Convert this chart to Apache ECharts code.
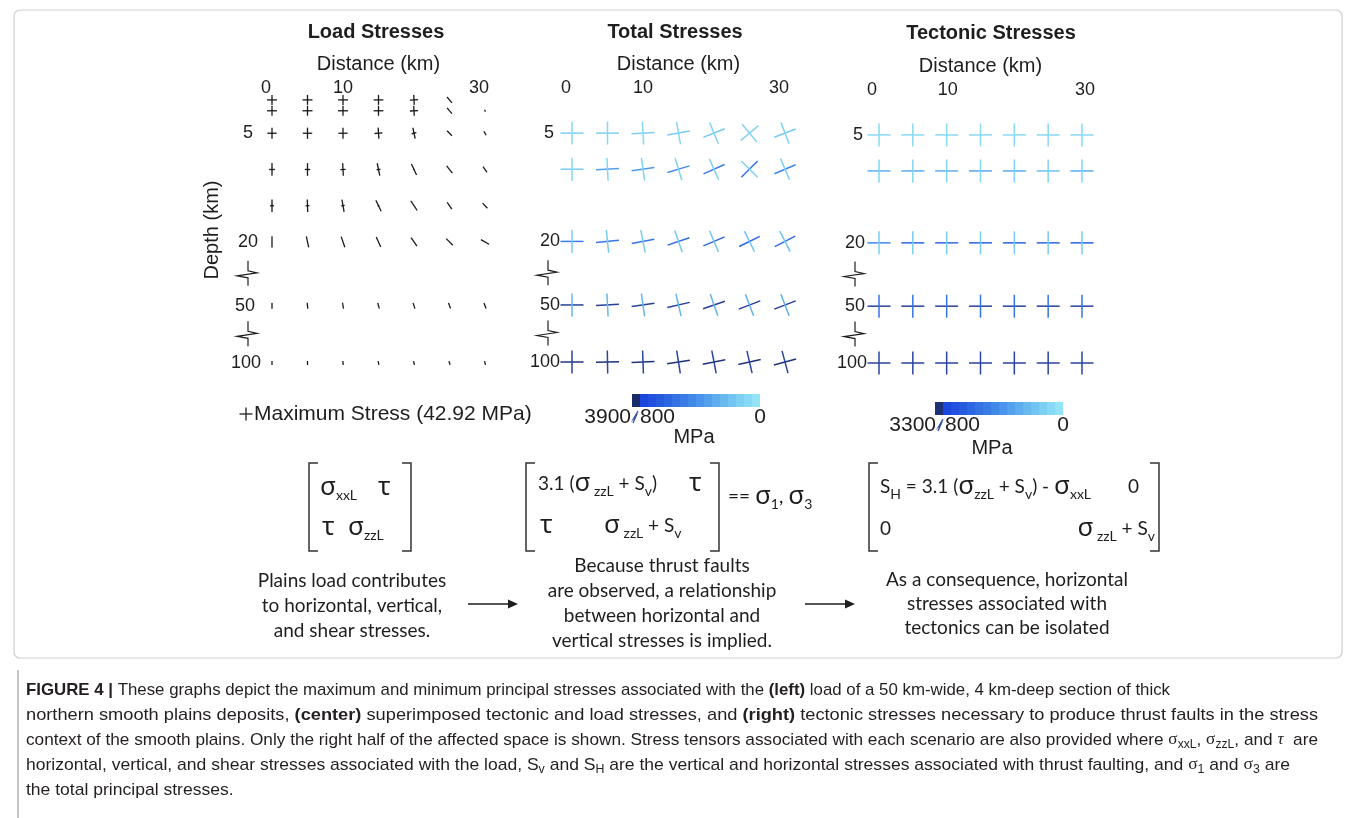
<!DOCTYPE html>
<html>
<head>
<meta charset="utf-8">
<title>Figure 4</title>
<script src="https://cdn.jsdelivr.net/npm/echarts@6.0.0/dist/echarts.min.js"></script>
<style>
html,body{margin:0;padding:0;background:#ffffff;}
#chart{width:1356px;height:818px;}
</style>
</head>
<body>
<div id="chart"></div>
<script>
// ================= DATA =================
const distances  = [0, 5, 10, 15, 20, 25, 30];          // km (columns)
const distTicks  = [0, 10, 30];
const depthTicks = [5, 20, 50, 100];                     // km

// --- Load stresses (black glyphs): sigma1 (near-vertical arm), sigma3 (horizontal arm), MPa; tilt in degrees
const maxLoadStress = 42.92;
const loadDepths = [0.4, 1.9, 5, 10, 15, 20, 50, 100];
const loadSigma1 = [
  [33, 33, 33, 33, 33, 25, 0],
  [33, 33, 33, 33, 33, 25, 7],
  [37, 37, 37, 37, 37, 23, 15],
  [42, 42, 42, 42, 40, 31, 23],
  [41, 41, 41, 40, 38, 27, 23],
  [37, 37, 37, 36, 34, 31, 31],
  [20, 20, 20, 20, 20, 20, 20],
  [13, 13, 13, 13, 13, 13, 13]
];
const loadSigma3 = [
  [33, 33, 33, 32, 27, 0, 0],
  [33, 33, 33, 32, 27, 0, 0],
  [31, 31, 30, 26, 16, 0, 0],
  [19, 18, 17, 13, 4, 0, 0],
  [13, 13, 11, 6, 0, 0, 0],
  [0, 0, 0, 0, 0, 0, 0],
  [0, 0, 0, 0, 0, 0, 0],
  [0, 0, 0, 0, 0, 0, 0]
];
const loadAngle = [
  [0, 0, 0, 0, 3, 40, 0],
  [0, 0, 0, 0, 3, 40, 30],
  [0, 0, 0, 4, 12, 45, 30],
  [0, 0, 3, 12, 25, 38, 35],
  [0, 2, 10, 26, 34, 35, 43],
  [0, 12, 19, 24, 35, 45, 60],
  [0, 5, 10, 15, 18, 20, 21],
  [0, 3, 6, 12, 15, 15, 15]
];

// --- Total stresses (MPa): horizontal-ish arm, vertical-ish arm, rotation (deg)
const totalDepths = [5, 10, 20, 50, 100];
const totalSigmaH = [
  [110, 110, 120, 140, 160, 130, 150],
  [130, 350, 380, 430, 520, 560, 480],
  [520, 540, 560, 600, 620, 640, 600],
  [1500, 1500, 1500, 1500, 1600, 1600, 1600],
  [3000, 3000, 3000, 3000, 3000, 3000, 3000]
];
const totalSigmaV = [
  [70, 70, 70, 80, 90, 90, 100],
  [70, 80, 90, 100, 110, 110, 120],
  [130, 140, 150, 160, 170, 180, 180],
  [240, 240, 250, 250, 260, 270, 280],
  [900, 900, 950, 950, 1000, 1000, 1000]
];
const totalAngle = [
  [0, 0, 3, 10, 22, 40, 21],
  [0, 3, 8, 17, 24, 45, 23],
  [0, 6, 11, 19, 23, 26, 27],
  [0, 3, 8, 13, 19, 21, 21],
  [0, 1, 2, 9, 11, 13, 15]
];

// --- Tectonic stresses (MPa), no rotation
const tectDepths = [5, 10, 20, 50, 100];
const tectSigmaH = [
  [60, 60, 60, 60, 60, 60, 60],
  [280, 300, 280, 320, 300, 200, 300],
  [460, 620, 620, 650, 650, 620, 650],
  [1200, 1300, 1300, 1300, 1300, 1300, 1300],
  [1100, 1100, 1100, 1100, 1100, 1100, 1100]
];
const tectSigmaV = [
  [60, 60, 60, 60, 60, 60, 60],
  [90, 90, 90, 90, 90, 90, 90],
  [130, 140, 140, 140, 140, 140, 140],
  [560, 560, 560, 560, 560, 560, 560],
  [1000, 1000, 1000, 1000, 1000, 1000, 1000]
];

// --- colour bars (MPa per block)
const colorbarTotal = [3900, 800, 745, 690, 630, 570, 515, 460, 400, 345, 285, 230, 170, 115, 60, 0];
const colorbarTect  = [3300, 800, 745, 690, 630, 570, 515, 460, 400, 345, 285, 230, 170, 115, 60, 0];

// ================= STYLE / LAYOUT =================
const SANS  = '"Liberation Sans", Arial, Helvetica, sans-serif';
const HUM   = 'Lato, "Open Sans", "Noto Sans", sans-serif';
const GREEK = '"Noto Sans", "DejaVu Sans", sans-serif';
const SERIF = '"Liberation Serif", "DejaVu Serif", serif';
const INK = '#1e1e1e';

// broken depth axis: depth -> axis position
const DEPTH_AXIS_KNOTS = [[0, 0], [20, 20], [50, 28.8], [100, 36.7]];
const DEPTH_AXIS_MAX = 36.7;
function depthPos(d) {
  const K = DEPTH_AXIS_KNOTS;
  for (let i = 1; i < K.length; i++) {
    if (d <= K[i][0]) return K[i-1][1] + (d - K[i-1][0]) * (K[i][1] - K[i-1][1]) / (K[i][0] - K[i-1][0]);
  }
  return K[K.length-1][1];
}

const BLUE_STOPS = [[0, '#93e4f7'], [200, '#6cc0f1'], [400, '#4a94eb'], [600, '#2f6be3'], [800, '#1b47dc']];
const NAVY_STOPS = [[800, '#2a46a6'], [3900, '#1b2b6a']];
function hex2rgb(h){ return [parseInt(h.substr(1,2),16), parseInt(h.substr(3,2),16), parseInt(h.substr(5,2),16)]; }
function lerpStops(stops, v) {
  if (v <= stops[0][0]) return stops[0][1];
  for (let i = 1; i < stops.length; i++) {
    if (v <= stops[i][0]) {
      const f = (v - stops[i-1][0]) / (stops[i][0] - stops[i-1][0]);
      const a = hex2rgb(stops[i-1][1]), b = hex2rgb(stops[i][1]);
      return 'rgb(' + a.map((c, k) => Math.round(c + (b[k]-c)*f)).join(',') + ')';
    }
  }
  return stops[stops.length-1][1];
}
function stressColor(v) { return v > 800 ? lerpStops(NAVY_STOPS, v) : lerpStops(BLUE_STOPS, v); }

const LOAD_PX = 13;   // full glyph length of maximum load stress
const CROSS_PX = 23;  // full arm length, coloured panels

const panels = [
  { grid: {left: 272, top: 97, width: 213, height: 266}, xShift: [-6, 0, -6], yOff: {5: 19, 20: 14, 50: 17, 100: 11} },
  { grid: {left: 572, top: 97, width: 213, height: 265}, xShift: [-6, 0, -6], yOff: {5: 18, 20: 12, 50: 12, 100: 12} },
  { grid: {left: 879, top: 99, width: 203, height: 264}, xShift: [-7, 1, 3],  yOff: {5: 16, 20: 14, 50: 14, 100: 12} }
];

function xAxisFor(i, p) {
  const rich = {};
  distTicks.forEach((t, k) => {
    const s = p.xShift[k];
    rich['t' + k] = {fontSize: 18, fontFamily: SANS, color: INK, padding: s < 0 ? [0, -2*s, 0, 0] : [0, 0, 0, 2*s]};
  });
  return {
    type: 'value', gridIndex: i, min: 0, max: 30, position: 'top',
    axisLine: {show: false}, axisTick: {show: false}, splitLine: {show: false},
    axisLabel: {
      customValues: distTicks, margin: 0, rich,
      formatter: (v) => { const k = distTicks.indexOf(v); return k < 0 ? '' : '{t' + k + '|' + v + '}'; }
    },
    name: 'Distance (km)', nameLocation: 'middle', nameGap: 23, nameMoveOverlap: false,
    nameTextStyle: {fontSize: 20, fontFamily: SANS, color: INK}
  };
}
function yAxisFor(i, p, withName) {
  const offs = depthTicks.map(d => p.yOff[d]);
  const m = Math.min(...offs);
  const rich = {};
  depthTicks.forEach((d, k) => { rich['t' + k] = {fontSize: 18, fontFamily: SANS, color: INK, padding: [0, offs[k] - m, 0, 0]}; });
  return {
    type: 'value', gridIndex: i, inverse: true, min: 0, max: DEPTH_AXIS_MAX,
    axisLine: {show: false}, axisTick: {show: false}, splitLine: {show: false},
    axisLabel: {
      customValues: depthTicks.map(depthPos), margin: m, rich,
      formatter: (v) => { const k = depthTicks.findIndex(d => Math.abs(depthPos(d) - v) < 1e-6); return k < 0 ? '' : '{t' + k + '|' + depthTicks[k] + '}'; }
    },
    name: withName ? 'Depth (km)' : '', nameLocation: 'middle', nameGap: 50, nameRotate: 90, nameMoveOverlap: false,
    nameTextStyle: {fontSize: 20, fontFamily: SANS, color: INK}
  };
}

function buildData(depths, A, B, ang) {
  const out = [];
  depths.forEach((d, r) => distances.forEach((x, c) => {
    out.push([x, depthPos(d), A[r][c], B[r][c], ang ? ang[r][c] : 0]);
  }));
  return out;
}
const loadData  = buildData(loadDepths, loadSigma3, loadSigma1, loadAngle);
const totalData = buildData(totalDepths, totalSigmaH, totalSigmaV, totalAngle);
const tectData  = buildData(tectDepths, tectSigmaH, tectSigmaV, null);

function crossRenderer(kind) {
  return function (params, api) {
    const c = api.coord([api.value(0), api.value(1)]);
    const a = api.value(2), b = api.value(3);
    const t = api.value(4) * Math.PI / 180;
    const ca = Math.cos(t), sa = Math.sin(t);
    let hA, hB, colA, colB, lw;
    if (kind === 'load') {
      hA = a / maxLoadStress * LOAD_PX / 2; hB = b / maxLoadStress * LOAD_PX / 2;
      colA = colB = '#1a1a1a'; lw = 1.3;
    } else {
      hA = hB = CROSS_PX / 2; colA = stressColor(a); colB = stressColor(b); lw = 1.5;
    }
    const ch = [];
    if (hA > 0.2) ch.push({type: 'line', shape: {x1: c[0] - hA*ca, y1: c[1] + hA*sa, x2: c[0] + hA*ca, y2: c[1] - hA*sa}, style: {stroke: colA, lineWidth: lw}});
    if (hB > 0.2) ch.push({type: 'line', shape: {x1: c[0] - hB*sa, y1: c[1] - hB*ca, x2: c[0] + hB*sa, y2: c[1] + hB*ca}, style: {stroke: colB, lineWidth: lw}});
    return {type: 'group', children: ch};
  };
}

const option = {
  animation: false,
  backgroundColor: '#ffffff',
  grid: [
    panels[0].grid, panels[1].grid, panels[2].grid,
    {left: 632, top: 394, width: 128, height: 13},
    {left: 935, top: 402, width: 128, height: 13}
  ],
  xAxis: [
    xAxisFor(0, panels[0]), xAxisFor(1, panels[1]), xAxisFor(2, panels[2]),
    {type: 'category', gridIndex: 3, data: colorbarTotal.map(String), show: false},
    {type: 'category', gridIndex: 4, data: colorbarTect.map(String), show: false}
  ],
  yAxis: [
    yAxisFor(0, panels[0], true), yAxisFor(1, panels[1], false), yAxisFor(2, panels[2], false),
    {type: 'value', gridIndex: 3, min: 0, max: 1, show: false},
    {type: 'value', gridIndex: 4, min: 0, max: 1, show: false}
  ],
  series: [
    {type: 'custom', xAxisIndex: 0, yAxisIndex: 0, data: loadData, encode: {x: 0, y: 1}, renderItem: crossRenderer('load'), clip: false, silent: true},
    {type: 'custom', xAxisIndex: 1, yAxisIndex: 1, data: totalData, encode: {x: 0, y: 1}, renderItem: crossRenderer('color'), clip: false, silent: true},
    {type: 'custom', xAxisIndex: 2, yAxisIndex: 2, data: tectData, encode: {x: 0, y: 1}, renderItem: crossRenderer('color'), clip: false, silent: true},
    {type: 'bar', xAxisIndex: 3, yAxisIndex: 3, barWidth: '100%', barCategoryGap: '0%', silent: true,
     data: colorbarTotal.map(v => ({value: 1, itemStyle: {color: stressColor(v)}}))},
    {type: 'bar', xAxisIndex: 4, yAxisIndex: 4, barWidth: '100%', barCategoryGap: '0%', silent: true,
     data: colorbarTect.map(v => ({value: 1, itemStyle: {color: stressColor(v)}}))}
  ]
};

const chart = echarts.init(document.getElementById('chart'), null, {renderer: 'canvas'});
chart.setOption(option);

// ================= ANNOTATIONS =================
function T(x, y, text, font, extra) {
  return {type: 'text', x, y, silent: true, z: 10,
    style: Object.assign({text, font, fill: INK, align: 'left', textAlign: 'left', verticalAlign: 'middle', textVerticalAlign: 'middle'}, extra || {})};
}
function R(x, y, text, rich, extra) {
  return {type: 'text', x, y, silent: true, z: 10,
    style: Object.assign({text, rich, font: '19px ' + HUM, fill: INK, align: 'left', textAlign: 'left', verticalAlign: 'middle', textVerticalAlign: 'middle'}, extra || {})};
}
function L(pts, color, lw) { return {type: 'polyline', silent: true, z: 10, shape: {points: pts}, style: {stroke: color || INK, lineWidth: lw || 1.4, fill: null}}; }

const G = [];
// frame
G.push({type: 'rect', silent: true, shape: {x: 14, y: 10, width: 1328, height: 648, r: 6}, style: {fill: null, stroke: '#cfcfcf', lineWidth: 1.2}});
G.push(L([[18, 670], [18, 818]], '#c4c4c4', 2));

// panel titles
[['Load Stresses', 376, 32], ['Total Stresses', 675, 32], ['Tectonic Stresses', 991, 33]].forEach(([t, x, y]) => {
  G.push(T(x, y, t, 'bold 20px ' + SANS, {align: 'center', textAlign: 'center'}));
});

// axis-break zigzags (placed relative to the axes)
const ZIG = [[0, -13], [0, -3], [9, -1], [-11, 2], [0, 4], [0, 12]];
[0, 1, 2].forEach(i => {
  [[20, 50], [50, 100]].forEach(([d0, d1]) => {
    const p = chart.convertToPixel({xAxisIndex: i, yAxisIndex: i}, [0, (depthPos(d0) + depthPos(d1)) / 2]);
    G.push(L(ZIG.map(([dx, dy]) => [p[0] - 24 + dx, p[1] + dy]), INK, 1.2));
  });
});

// legend for load glyph
G.push(L([[239.5, 414], [252.5, 414]], INK, 1.3));
G.push(L([[246, 407.5], [246, 420.5]], INK, 1.3));
G.push(T(254, 414, 'Maximum Stress (42.92 MPa)', '21px ' + SANS));

// colour bar labels
function cbLabels(x0, x1, y, maxLabel, mpaX, mpaY) {
  G.push(T(x0 - 1, y, maxLabel, '21px ' + SANS, {align: 'right', textAlign: 'right'}));
  G.push(L([[x0 + 1, y + 6], [x0 + 4, y - 1], [x0 + 2, y + 1], [x0 + 6, y - 6]], '#3550a8', 1.4));
  G.push(T(x0 + 8, y, '800', '21px ' + SANS));
  G.push(T(x1, y, '0', '21px ' + SANS, {align: 'center', textAlign: 'center'}));
  G.push(T(mpaX, mpaY, 'MPa', '20px ' + SANS, {align: 'center', textAlign: 'center'}));
}
cbLabels(632, 760, 417, '3900', 694, 437);
cbLabels(937, 1063, 425, '3300', 992, 448);

// matrices
const MR = {
  n:   {fontSize: 19, fontFamily: HUM, fill: INK, color: INK, lineHeight: 28},
  g:   {fontSize: 26, fontFamily: GREEK, fill: INK, color: INK, lineHeight: 28},
  sub: {fontSize: 14, fontFamily: HUM, fill: INK, color: INK, lineHeight: 14, verticalAlign: 'bottom'},
  sm:  {fontSize: 14, fontFamily: HUM, fill: INK, color: INK, lineHeight: 18, verticalAlign: 'bottom'}
};
function bracket(x, y0, y1, dir) {
  G.push(L([[x + dir*9, y0], [x, y0], [x, y1], [x + dir*9, y1]], '#333', 1.5));
}
// left matrix
bracket(309, 463, 551, 1); bracket(411, 463, 551, -1);
G.push(R(320, 488, '{g|σ}{sub|xxL}', MR));
G.push(R(378, 488, '{g|τ}', MR));
G.push(R(322, 528, '{g|τ}', MR));
G.push(R(348, 528, '{g|σ}{sub|zzL}', MR));
// centre matrix
bracket(526, 463, 551, 1); bracket(719, 463, 551, -1);
G.push(R(538, 484, '{n|3.1 (}{g|σ}{sub| zzL}{n| + S}{sm|v}{n|)}', MR));
G.push(R(689, 484, '{g|τ}', MR));
G.push(R(540, 526, '{g|τ}', MR));
G.push(R(604, 526, '{g|σ}{sub| zzL}{n| + S}{sm|v}', MR));
G.push(R(728, 497, '{n|== }{g|σ}{sm|1}{n|, }{g|σ}{sm|3}', MR));
// right matrix
bracket(869, 463, 551, 1); bracket(1159, 463, 551, -1);
G.push(R(880, 487, '{n|S}{sm|H}{n| = 3.1 (}{g|σ}{sub|zzL}{n| + S}{sm|v}{n|) - }{g|σ}{sub|xxL}', MR));
G.push(R(1128, 487, '{n|0}', MR));
G.push(R(880, 529, '{n|0}', MR));
G.push(R(1155, 529, '{g|σ}{sub| zzL}{n| + S}{sm|v}', MR, {align: 'right', textAlign: 'right'}));

// explanatory text
const EX = {font: '19px ' + HUM, align: 'center', textAlign: 'center', verticalAlign: 'top', textVerticalAlign: 'top', lineHeight: 25};
G.push(T(352, 568, 'Plains load contributes\nto horizontal, vertical,\nand shear stresses.', null, EX));
G.push(T(662, 553, 'Because thrust faults\nare observed, a relationship\nbetween horizontal and\nvertical stresses is implied.', null, EX));
G.push(T(1007, 568, 'As a consequence, horizontal\nstresses associated with\ntectonics can be isolated', null, Object.assign({}, EX, {lineHeight: 24})));
// arrows
[[468, 518], [805, 855]].forEach(([a, b]) => {
  G.push(L([[a, 604], [b - 6, 604]], INK, 1.5));
  G.push({type: 'polygon', silent: true, z: 10, shape: {points: [[b, 604], [b - 10, 599.5], [b - 10, 608.5]]}, style: {fill: INK}});
});

// caption
const CAPF = '"Liberation Sans", Arial, sans-serif';
const CS = 17;
const CR = {
  n:   {fontSize: CS, fontFamily: CAPF, fill: '#231f20', lineHeight: 22},
  b:   {fontSize: CS, fontFamily: CAPF, fontWeight: 'bold', fill: '#231f20', lineHeight: 22},
  gs:  {fontSize: CS, fontFamily: SERIF, fill: '#231f20', lineHeight: 22},
  gi:  {fontSize: CS, fontFamily: SERIF, fontStyle: 'italic', fill: '#231f20', lineHeight: 22},
  sub: {fontSize: 12, fontFamily: CAPF, fill: '#231f20', lineHeight: 13, verticalAlign: 'bottom'}
};
const captionLines = [
  {y: 690, w: 1144, segs: [['b', 'FIGURE 4 |'], ['n', ' These graphs depict the maximum and minimum principal stresses associated with the '], ['b', '(left)'], ['n', ' load of a 50 km-wide, 4 km-deep section of thick']]},
  {y: 715, w: 1292, segs: [['n', 'northern smooth plains deposits, '], ['b', '(center)'], ['n', ' superimposed tectonic and load stresses, and '], ['b', '(right)'], ['n', ' tectonic stresses necessary to produce thrust faults in the stress']]},
  {y: 740, w: 1292, segs: [['n', 'context of the smooth plains. Only the right half of the affected space is shown. Stress tensors associated with each scenario are also provided where '], ['gs', 'σ'], ['sub', 'xxL'], ['n', ', '], ['gs', 'σ'], ['sub', 'zzL'], ['n', ', and '], ['gi', 'τ'], ['n', '  are']]},
  {y: 765, w: 1264, segs: [['n', 'horizontal, vertical, and shear stresses associated with the load, S'], ['sub', 'v'], ['n', ' and S'], ['sub', 'H'], ['n', ' are the vertical and horizontal stresses associated with thrust faulting, and '], ['gs', 'σ'], ['sub', '1'], ['n', ' and '], ['gs', 'σ'], ['sub', '3'], ['n', ' are']]},
  {y: 790, w: 0, segs: [['n', 'the total principal stresses.']]}
];
const mctx = document.createElement('canvas').getContext('2d');
function fontOf(st) { return (st.fontStyle || 'normal') + ' ' + (st.fontWeight || 'normal') + ' ' + st.fontSize + 'px ' + st.fontFamily; }
let lastScale = 1;
captionLines.forEach(line => {
  let w = 0, s = '';
  line.segs.forEach(([k, t]) => { mctx.font = fontOf(CR[k]); w += mctx.measureText(t).width; s += '{' + k + '|' + t + '}'; });
  const sc = line.w ? Math.max(0.7, Math.min(1.2, line.w / w)) : lastScale;
  lastScale = sc;
  const el = R(26, line.y, s, CR, {font: CS + 'px ' + CAPF});
  el.scaleX = sc; el.originX = 0; el.originY = 0;
  G.push(el);
});

chart.setOption({graphic: {elements: G}});
</script>
</body>
</html>
